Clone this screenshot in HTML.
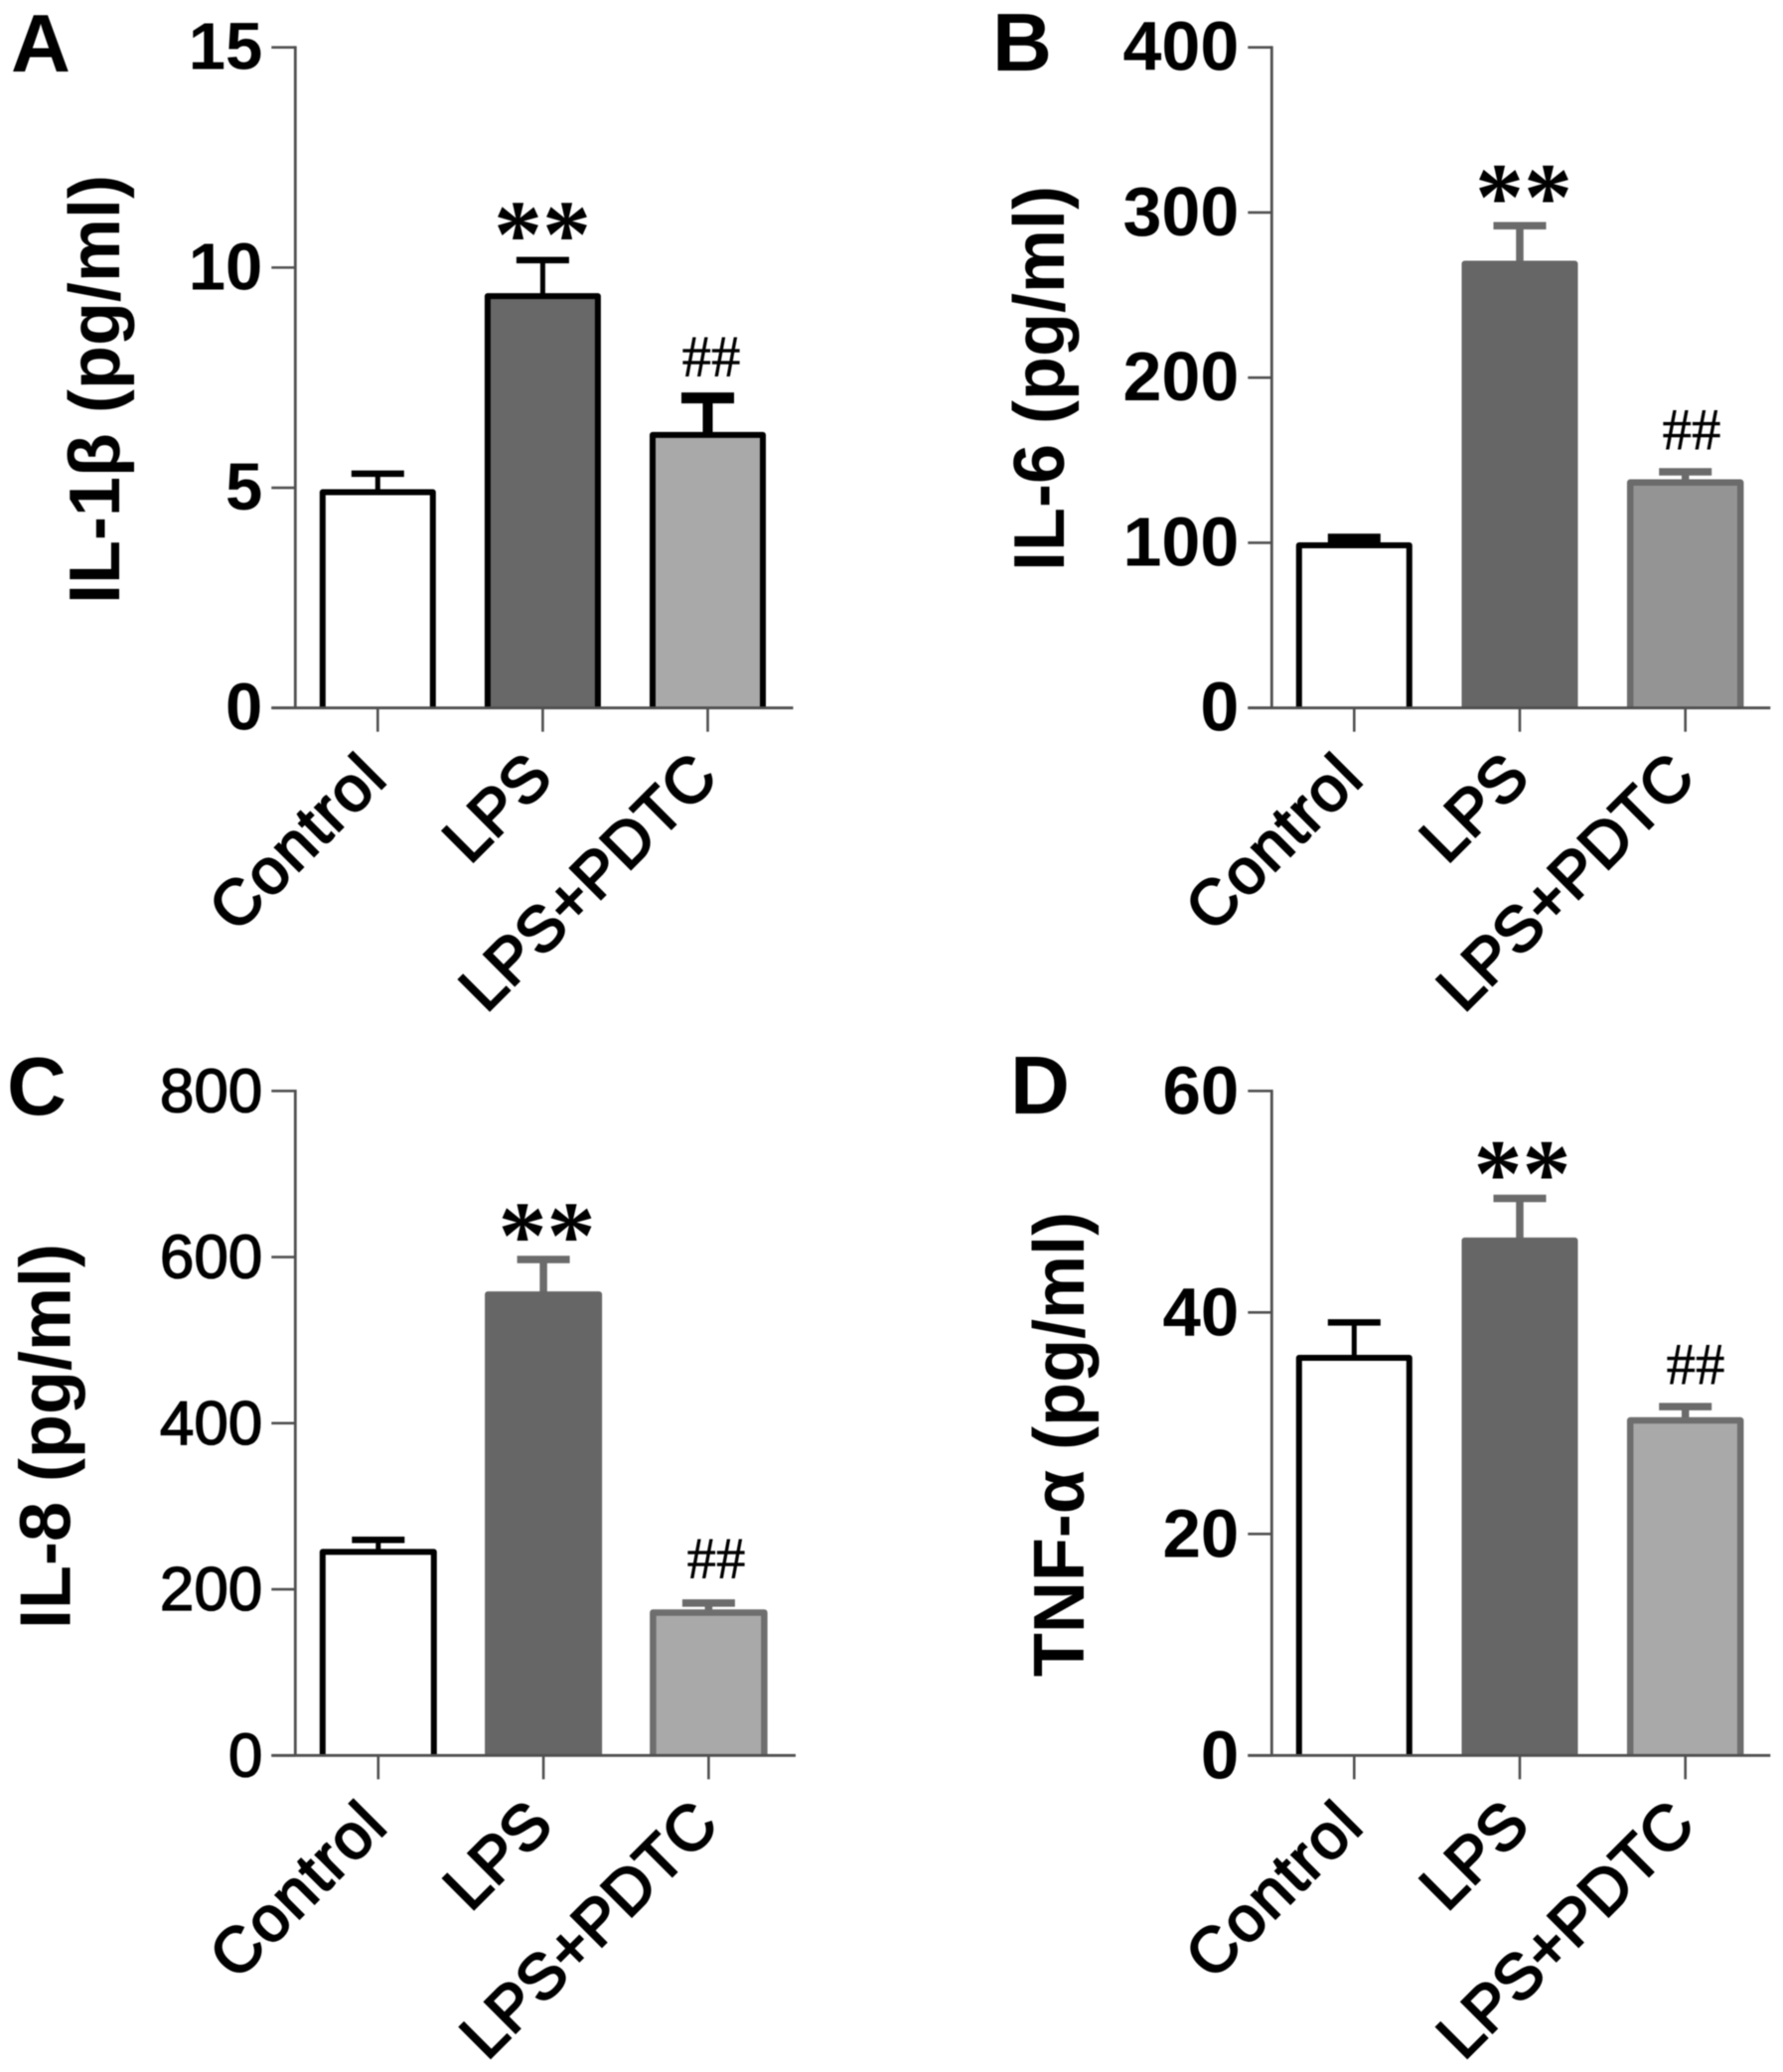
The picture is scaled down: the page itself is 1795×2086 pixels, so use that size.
<!DOCTYPE html>
<html lang="en">
<head>
<meta charset="utf-8">
<title>Cytokine levels by treatment group</title>
<style>
  html, body { margin: 0; padding: 0; background: #fff; }
  #figure { display: block; width: 1795px; height: 2086px; filter: blur(0.6px); }
  text { font-family: "Liberation Sans", sans-serif; fill: #000; }
  .tick-bold { font-size: 67px; font-weight: bold; }
  .tick-wide { font-size: 70px; font-weight: bold; }
  .tick-mid { font-size: 69px; font-weight: bold; }
  .tick-light { font-size: 62px; font-weight: normal; stroke: #000; stroke-width: 1.3px; }
  .y-title { font-size: 72px; font-weight: bold; }
  .x-label { font-size: 64px; font-weight: normal; stroke: #000; stroke-width: 2.2px; }
  .x-label-wide { letter-spacing: 1.8px; }
  .panel-letter { font-size: 83px; font-weight: bold; }
  .stars { font-family: "Liberation Serif", serif; font-size: 98px; font-weight: bold; }
  .hashes { font-family: "Liberation Serif", serif; font-size: 59px; stroke: #000; stroke-width: 0.4px; }
</style>
</head>
<body>
<svg id="figure" xmlns="http://www.w3.org/2000/svg" width="1795" height="2086" viewBox="0 0 1795 2086"></svg>
<script>
// ---- Data ----
const categories = ["Control", "LPS", "LPS+PDTC"];

const il1bValues = [4.9, 9.35, 6.2];
const il1bUpper = [5.32, 10.17, 7.04];
const il1bTicks = [0, 5, 10, 15];

const il6Values = [98.5, 269, 136.5];
const il6Upper = [102.5, 292, 143];
const il6Ticks = [0, 100, 200, 300, 400];

const il8Values = [245, 555, 172];
const il8Upper = [259.5, 597, 183.5];
const il8Ticks = [0, 200, 400, 600, 800];

const tnfValues = [35.9, 46.5, 30.25];
const tnfUpper = [39.1, 50.3, 31.5];
const tnfTicks = [0, 20, 40, 60];

// ---- Drawing ----
const SVG_NS = "http://www.w3.org/2000/svg";
const root = document.getElementById("figure");

function addLine(parent, x1, y1, x2, y2, color, width) {
  const el = document.createElementNS(SVG_NS, "line");
  el.setAttribute("x1", x1);
  el.setAttribute("y1", y1);
  el.setAttribute("x2", x2);
  el.setAttribute("y2", y2);
  el.setAttribute("stroke", color);
  el.setAttribute("stroke-width", width);
  parent.appendChild(el);
  return el;
}

function addText(parent, content, cls, x, y, anchor, rotate) {
  const el = document.createElementNS(SVG_NS, "text");
  el.setAttribute("class", cls);
  el.setAttribute("text-anchor", anchor);
  el.setAttribute("transform", "translate(" + x + "," + y + ")" + (rotate ? " rotate(" + rotate + ")" : ""));
  el.textContent = content;
  parent.appendChild(el);
  return el;
}

function drawPanel(cfg) {
  const axisColor = "#505050";
  const group = document.createElementNS(SVG_NS, "g");
  
  
  root.appendChild(group);

  const maxTick = cfg.ticks[cfg.ticks.length - 1];
  const yScale = function (v) { return cfg.base - (v / maxTick) * (cfg.base - cfg.top); };
  const xScale = function (i) { return cfg.x0 + i * cfg.step; };

  const letter = addText(group, cfg.letter, "panel-letter", cfg.letterX, cfg.letterY, "start");
  
  

  const title = addText(group, cfg.title, "y-title", cfg.titleX, cfg.titleY, "middle", -90);
  
  

  // Bars and error bars
  cfg.values.forEach(function (value, i) {
    const cx = xScale(i);
    const half = cfg.barHalf;
    const s = cfg.styles[i];

    const capY = yScale(cfg.upper[i]);
    const stem = addLine(group, cx, capY, cx, yScale(value), s.capColor, s.stemWidth);
    
    

    const cap = addLine(group, cx - 26.5, capY, cx + 26.5, capY, s.capColor, s.capWidth);
    
    

    const bar = document.createElementNS(SVG_NS, "path");
    bar.setAttribute("d", "M" + (cx - half) + " " + cfg.base + "V" + yScale(value) + "H" + (cx + half) + "V" + cfg.base);
    bar.setAttribute("fill", s.fill);
    bar.setAttribute("stroke", s.stroke);
    bar.setAttribute("stroke-width", s.strokeWidth);
    bar.setAttribute("stroke-linejoin", "round");
    
    
    group.appendChild(bar);

    const xTick = addLine(group, cx, cfg.base, cx, cfg.base + 24, axisColor, 2.6);
    
    

    const labelClass = categories[i] === "Control" ? "x-label x-label-wide" : "x-label";
    const xLabel = addText(group, categories[i], labelClass, cx + cfg.labelDx, cfg.base + cfg.labelDy, "end", -45);
    
    
  });

  // Axes
  const yAxis = addLine(group, cfg.axisX, cfg.top - 1.3, cfg.axisX, cfg.base, axisColor, 2.8);
  
  

  const xAxis = addLine(group, cfg.axisX - 24, cfg.base, cfg.axisEnd, cfg.base, axisColor, 2.8);
  
  

  cfg.ticks.forEach(function (t) {
    const y = yScale(t);
    const tick = addLine(group, cfg.axisX - 24, y, cfg.axisX, y, axisColor, 2.6);
    
    

    const label = addText(group, String(t), cfg.tickClass, cfg.axisX - 33, y + cfg.tickDy, "end");
    
    
  });

  // Significance marks
  const stars = addText(group, "**", "stars", cfg.starX, cfg.starY, "middle");
  
  

  const hashes = addText(group, "##", "hashes", cfg.hashX, cfg.hashY, "middle");
  
  
}

const blackOutline = function (fill, capWidth, stemWidth) {
  return { fill: fill, stroke: "#000", strokeWidth: 6, capColor: "#000", capWidth: capWidth, stemWidth: stemWidth };
};
const greyOutline = function (fill, stroke, strokeWidth) {
  return { fill: fill, stroke: stroke, strokeWidth: strokeWidth, capColor: "#6b6b6b", capWidth: 7.5, stemWidth: 7.5 };
};

drawPanel({
  letter: "A", letterX: 11, letterY: 72,
  title: "IL-1β (pg/ml)", titleX: 120, titleY: 392,
  values: il1bValues, upper: il1bUpper, ticks: il1bTicks,
  top: 47.7, base: 712.7, axisX: 297.3, axisEnd: 798.5,
  x0: 380.3, step: 166.1, barHalf: 55.5,
  labelDx: 12, labelDy: 73, tickClass: "tick-bold", tickDy: 22,
  starX: 546, starY: 268.7, hashX: 716, hashY: 378.5,
  styles: [blackOutline("#fff", 6.5, 5), blackOutline("#686868", 6.5, 5), blackOutline("#a9a9a9", 11, 10)]
});

drawPanel({
  letter: "B", letterX: 999, letterY: 71,
  title: "IL-6 (pg/ml)", titleX: 1071, titleY: 381,
  values: il6Values, upper: il6Upper, ticks: il6Ticks,
  top: 47.7, base: 712.7, axisX: 1280.3, axisEnd: 1782.3,
  x0: 1363.3, step: 166.7, barHalf: 55.5,
  labelDx: 12, labelDy: 73, tickClass: "tick-wide", tickDy: 23,
  starX: 1534, starY: 231.2, hashX: 1703, hashY: 452,
  styles: [blackOutline("#fff", 10, 5), greyOutline("#666", "#666", 6), greyOutline("#949494", "#6b6b6b", 6.5)]
});

drawPanel({
  letter: "C", letterX: 7, letterY: 1122,
  title: "IL-8 (pg/ml)", titleX: 70.5, titleY: 1446,
  values: il8Values, upper: il8Upper, ticks: il8Ticks,
  top: 1098.3, base: 1767.3, axisX: 297.3, axisEnd: 801,
  x0: 380.8, step: 166.3, barHalf: 56,
  labelDx: 12, labelDy: 73, tickClass: "tick-light", tickDy: 21,
  starX: 550.5, starY: 1276.7, hashX: 721, hashY: 1588.3,
  styles: [blackOutline("#fff", 6.5, 5), greyOutline("#666", "#666", 6), greyOutline("#a9a9a9", "#6e6e6e", 6.5)]
});

drawPanel({
  letter: "D", letterX: 1017, letterY: 1121,
  title: "TNF-α (pg/ml)", titleX: 1091, titleY: 1454,
  values: tnfValues, upper: tnfUpper, ticks: tnfTicks,
  top: 1098.3, base: 1767.3, axisX: 1280.3, axisEnd: 1782.3,
  x0: 1363.3, step: 166.7, barHalf: 55.5,
  labelDx: 12, labelDy: 73, tickClass: "tick-mid", tickDy: 23,
  starX: 1532.5, starY: 1214, hashX: 1707, hashY: 1393,
  styles: [blackOutline("#fff", 6.5, 5), greyOutline("#666", "#666", 6), greyOutline("#a9a9a9", "#6e6e6e", 6.5)]
});
</script>
</body>
</html>
